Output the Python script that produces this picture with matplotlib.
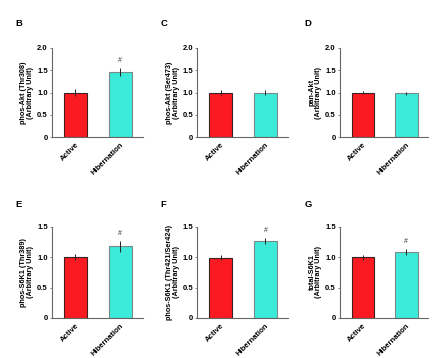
import numpy as np
import matplotlib
matplotlib.use("Agg")
import matplotlib.pyplot as plt

plt.rcParams['font.family'] = ['Liberation Sans', 'DejaVu Sans']

groups = ["Active", "Hibernation"]
panel_letters = ["B", "C", "D", "E", "F", "G"]
ylabels = [
    "phos-Akt (Thr308)\n(Arbitrary Unit)",
    "phos-Akt (Ser473)\n(Arbitrary Unit)",
    "pan-Akt\n(Arbitrary Unit)",
    "phos-S6K1 (Thr389)\n(Arbitrary Unit)",
    "phos-S6K1 (Thr421/Ser424)\n(Arbitrary Unit)",
    "total-S6K1\n(Arbitrary Unit)",
]
means = [
    [1.00, 1.46],
    [1.00, 1.00],
    [1.00, 0.98],
    [1.00, 1.18],
    [0.99, 1.27],
    [1.00, 1.09],
]
errors = [
    [0.07, 0.09],
    [0.05, 0.05],
    [0.03, 0.03],
    [0.05, 0.09],
    [0.04, 0.05],
    [0.04, 0.05],
]
# "#" marker over Hibernation bar
hib_significant = [True, False, False, True, True, True]
ymax = [2.0, 2.0, 2.0, 1.5, 1.5, 1.5]
yticks = [[0, 0.5, 1.0, 1.5, 2.0]] * 3 + [[0, 0.5, 1.0, 1.5]] * 3
yticklabels = [["0", "0.5", "1.0", "1.5", "2.0"]] * 3 + [["0", "0.5", "1.0", "1.5"]] * 3

bar_colors = ["#fc1a22", "#3ceada"]
edge_colors = ["#3a2020", "#7a8a88"]

fig = plt.figure(figsize=(4.41, 3.58), dpi=100)

lefts = [0.118, 0.447, 0.771]
widths = [0.206, 0.206, 0.200]
bottoms = [0.617, 0.112]
heights = [0.249, 0.254]

for i in range(6):
    r, c = divmod(i, 3)
    ax = fig.add_axes([lefts[c], bottoms[r], widths[c], heights[r]])
    x = np.arange(len(groups))
    ax.bar(x, means[i], width=0.51, color=bar_colors,
           edgecolor=edge_colors, linewidth=0.8, zorder=2)
    ax.errorbar(x, means[i], yerr=errors[i], fmt="none", ecolor="#222222",
                elinewidth=0.7, capsize=0, zorder=3)
    if hib_significant[i]:
        ax.text(x[1], means[i][1] + errors[i][1] + 0.04 * ymax[i], "#",
                ha="center", va="bottom", fontsize=5, color="#333333")
    ax.set_xlim(-0.52, 1.5)
    ax.set_ylim(0, ymax[i])
    ax.set_yticks(yticks[i])
    ax.set_yticklabels(yticklabels[i], fontsize=5.5, fontweight="bold")
    ax.set_xticks(x)
    ax.set_xticklabels(groups, rotation=45, ha="right", rotation_mode="anchor",
                       fontsize=5.5, fontweight="bold")
    ax.tick_params(axis="x", length=0, pad=3)
    ax.tick_params(axis="y", length=1.5, width=0.5, pad=1.5, colors="#555555",
                   labelcolor="black")
    for s in ["top", "right"]:
        ax.spines[s].set_visible(False)
    for s in ["left", "bottom"]:
        ax.spines[s].set_color("#666666")
        ax.spines[s].set_linewidth(0.8)
    ax.set_ylabel(ylabels[i], fontsize=5.2, fontweight="bold", labelpad=2,
                  linespacing=1.0)
    ax.text(-0.40, 1.27 if r == 0 else 1.25, panel_letters[i], transform=ax.transAxes,
            fontsize=6.8, fontweight="bold", ha="left", va="center")

fig.savefig("out.png", dpi=100)
